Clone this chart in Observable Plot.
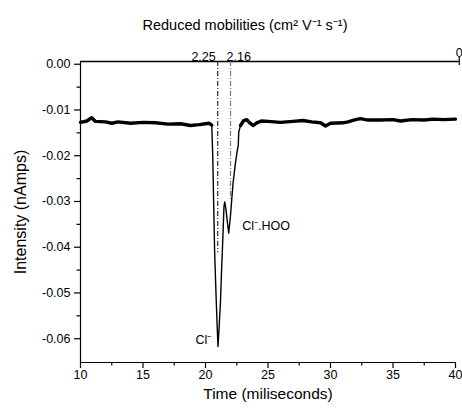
<!DOCTYPE html>
<html>
<head>
<meta charset="utf-8">
<script src="https://cdn.jsdelivr.net/npm/d3@7"></script>
<script src="https://cdn.jsdelivr.net/npm/@observablehq/plot@0.6"></script>
<style>
  body { margin: 0; background: #fff; }
  #chart svg { display: block; }
</style>
</head>
<body>
<div id="chart"></div>
<script>
// ---- data ----
const times = [
  10, 10.5, 10.9, 11.2, 12, 12.5, 13, 14, 15, 16, 17, 18, 18.8, 19.5, 20, 20.3, 20.5,
  20.58, 20.65, 20.73, 20.85, 20.93, 21.0, 21.1, 21.2, 21.3, 21.38, 21.48, 21.54,
  21.65, 21.75, 21.86, 22.0, 22.2, 22.4, 22.54, 22.62, 22.66, 22.8,
  23.06, 23.3, 23.5, 23.8, 24.1, 24.5, 25, 26, 27, 27.8, 28.5, 29.2, 29.6, 30, 31,
  31.4, 32, 32.4, 33, 34, 35, 35.6, 36.5, 37.5, 38.2, 39, 40
];
const intensity = [
  -0.0127, -0.0124, -0.0117, -0.0125, -0.0126, -0.0129, -0.0126, -0.0129, -0.0127, -0.0128, -0.0131, -0.0130, -0.0134, -0.0132, -0.0130, -0.0129, -0.0133,
  -0.0200, -0.0300, -0.0410, -0.0510, -0.0570, -0.0617, -0.0570, -0.0517, -0.0440, -0.0386, -0.0310, -0.0301,
  -0.0320, -0.0345, -0.0369, -0.0330, -0.0261, -0.0215, -0.0189, -0.0178, -0.0148, -0.0134,
  -0.0123, -0.0121, -0.0127, -0.0134, -0.0128, -0.0124, -0.0125, -0.0127, -0.0125, -0.0123, -0.0126, -0.0128, -0.0135, -0.0129, -0.0128,
  -0.0126, -0.0121, -0.0119, -0.0122, -0.0122, -0.0121, -0.0124, -0.0121, -0.0122, -0.0120, -0.0121, -0.0120
];

const xTicks = [10, 15, 20, 25, 30, 35, 40];
const xMinorTicks = [12.5, 17.5, 22.5, 27.5, 32.5, 37.5];
const yTicks = [0, -0.01, -0.02, -0.03, -0.04, -0.05, -0.06];
const yMinorTicks = [-0.005, -0.015, -0.025, -0.035, -0.045, -0.055];

// top axis: reduced mobilities
const mobilityLabels = ["2.25", "2.16", "0"];
const mobilityTimes = [20.98, 22.0, 40.3];
const mobilityLineEnds = [-0.0412, -0.0298];

// peak annotations
const peakLabels = ["Cl\u207B", "Cl\u207B.HOO"];
const peakTimes = [19.84, 22.94];
const peakValues = [-0.0602, -0.0353];

const xTitle = "Time (miliseconds)";
const yTitle = "Intensity (nAmps)";
const topTitle = "Reduced mobilities (cm\u00B2 V\u207B\u00B9 s\u207B\u00B9)";

// ---- build ----
const signal = times.map((t, i) => ({t, v: intensity[i]}));
const yDomain = [-0.0652, 0.0006];
const xDomain = [10, 40];
const font = "'Liberation Sans', Arial, sans-serif";

const mob = mobilityLabels.map((label, i) => ({label, t: mobilityTimes[i]}));
const mobLines = mobilityLineEnds.map((v, i) => ({t: mobilityTimes[i], v}));
const peaks = peakLabels.map((label, i) => ({label, t: peakTimes[i], v: peakValues[i]}));

const chart = Plot.plot({
  width: 462,
  height: 408,
  marginLeft: 80,
  marginRight: 7,
  marginTop: 61,
  marginBottom: 46,
  style: {fontFamily: font, fontSize: "12.5px", color: "#000", background: "#fff"},
  x: {domain: xDomain},
  y: {domain: yDomain},
  marks: [
    // axis lines
    Plot.ruleX([xDomain[0]], {y1: yDomain[0], y2: yDomain[1], stroke: "#000", strokeWidth: 1.2}),
    Plot.ruleY([yDomain[0]], {x1: xDomain[0], x2: xDomain[1], stroke: "#000", strokeWidth: 1.2}),
    Plot.ruleY([yDomain[1]], {x1: xDomain[0], x2: 40.3, stroke: "#000", strokeWidth: 1.5}),
    Plot.ruleX([40.3], {y1: yDomain[1], y2: yDomain[1], stroke: "#000", strokeWidth: 1.2, insetTop: -4, insetBottom: -4}),
    // ticks (outward)
    Plot.ruleX(xTicks, {y1: yDomain[0], y2: yDomain[0], insetBottom: -6, stroke: "#000", strokeWidth: 1.2}),
    Plot.ruleX(xMinorTicks, {y1: yDomain[0], y2: yDomain[0], insetBottom: -3.5, stroke: "#000", strokeWidth: 1.2}),
    Plot.ruleY(yTicks, {x1: xDomain[0], x2: xDomain[0], insetLeft: -6, stroke: "#000", strokeWidth: 1.2}),
    Plot.ruleY(yMinorTicks, {x1: xDomain[0], x2: xDomain[0], insetLeft: -3.5, stroke: "#000", strokeWidth: 1.2}),
    // tick labels
    Plot.axisX({ticks: xTicks, tickSize: 0, tickPadding: 8, fontSize: 12.5, label: null, tickFormat: d => String(d)}),
    Plot.axisY({ticks: yTicks, tickSize: 0, tickPadding: 10, fontSize: 12.5, label: null, tickFormat: d => d.toFixed(2)}),
    // axis titles
    Plot.text([xTitle], {frameAnchor: "bottom", dy: 32, textAnchor: "middle", lineAnchor: "middle", fontSize: 15.5}),
    Plot.text([yTitle], {frameAnchor: "left", dx: -60, textAnchor: "middle", lineAnchor: "middle", rotate: -90, fontSize: 16}),
    Plot.text([topTitle], {frameAnchor: "top", dy: -36, dx: -23, lineAnchor: "middle", fontSize: 14.5}),
    // mobility marker lines
    Plot.ruleX(mobLines.slice(0, 1), {x: "t", y1: yDomain[1], y2: "v", stroke: "#000", strokeWidth: 1, strokeDasharray: "5,2,1,2"}),
    Plot.ruleX(mobLines.slice(1, 2), {x: "t", y1: yDomain[1], y2: "v", stroke: "#777", strokeWidth: 1.2, strokeDasharray: "5,2,1,2"}),
    // top labels
    Plot.text(mob.slice(0, 1), {x: "t", text: "label", frameAnchor: "top", dy: -9, dx: -2, textAnchor: "end", fontSize: 12.5}),
    Plot.text(mob.slice(1, 2), {x: "t", text: "label", frameAnchor: "top", dy: -9, dx: -4, textAnchor: "start", fontSize: 12.5}),
    Plot.text(mob.slice(2, 3), {x: "t", text: "label", frameAnchor: "top", dy: -13.5, dx: 0, textAnchor: "middle", fontSize: 12.5}),
    // signal
    Plot.line(signal, {x: "t", y: "v", stroke: "#000", strokeWidth: 1.4, curve: "linear"}),
    Plot.line(signal.filter(d => d.t <= 20.5), {x: "t", y: "v", stroke: "#000", strokeWidth: 3.4}),
    Plot.line(signal.filter(d => d.t >= 22.8), {x: "t", y: "v", stroke: "#000", strokeWidth: 3.4}),
    // peak labels
    Plot.text(peaks.slice(0, 1), {x: "t", y: "v", text: "label", textAnchor: "middle", fontSize: 12.5}),
    Plot.text(peaks.slice(1, 2), {x: "t", y: "v", text: "label", textAnchor: "start", fontSize: 12.5})
  ]
});
document.getElementById("chart").appendChild(chart);
</script>
</body>
</html>
